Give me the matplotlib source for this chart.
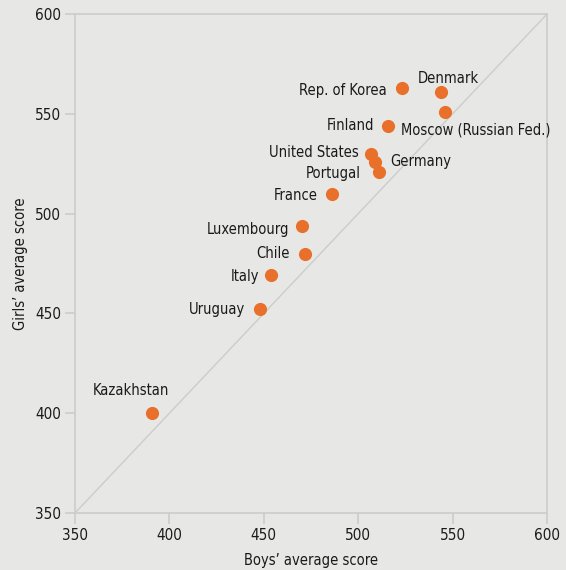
import matplotlib
matplotlib.use("Agg")
import matplotlib.pyplot as plt

# scores
countries = ["Denmark", "Rep. of Korea", "Moscow (Russian Fed.)", "Finland",
             "United States", "Germany", "Portugal", "France", "Luxembourg",
             "Chile", "Italy", "Uruguay", "Kazakhstan"]
boys = [544, 523, 546, 516, 507, 509, 511, 486, 470, 472, 454, 448, 391]
girls = [561, 563, 551, 544, 530, 526, 521, 510, 494, 480, 469, 452, 400]

# label placement (offset in points, horizontal alignment)
label_pos = {
    "Denmark": ((-17, 9.5), "left"),
    "Rep. of Korea": ((-11, -2), "right"),
    "Moscow (Russian Fed.)": ((-32, -13), "left"),
    "Finland": ((-10, 0), "right"),
    "United States": ((-9, 1), "right"),
    "Germany": ((11, 0), "left"),
    "Portugal": ((-13, -1), "right"),
    "France": ((-10, -1), "right"),
    "Luxembourg": ((-9, -3), "right"),
    "Chile": ((-11, 0), "right"),
    "Italy": ((-9, -1), "right"),
    "Uruguay": ((-11, 0), "right"),
    "Kazakhstan": ((-43, 16.5), "left"),
}

bg = "#e7e8e6"
grey = "#cccdcb"
plt.rcParams["font.family"] = ["DejaVu Sans"]
plt.rcParams["font.stretch"] = "condensed"

fig = plt.figure(figsize=(5.66, 5.70), dpi=100, facecolor=bg)
ax = fig.add_axes([0.1325, 0.1, 0.834, 0.8754], facecolor=bg)

ax.plot([350, 600], [350, 600], color=grey, lw=1, zorder=1)
ax.scatter(boys, girls, s=90, color="#e8702a", zorder=3, linewidths=0)

for name, x, y in zip(countries, boys, girls):
    off, ha = label_pos[name]
    ax.annotate(name, (x, y), xytext=off, textcoords="offset points",
                ha=ha, va="center", fontsize=10.5, color="#1a1a1a")

ax.set_xlim(350, 600)
ax.set_ylim(350, 600)
ax.set_xticks(range(350, 601, 50))
ax.set_yticks(range(350, 601, 50))
for s in ax.spines.values():
    s.set_color(grey)
    s.set_linewidth(1.2)
ax.tick_params(axis="both", colors=grey, labelcolor="#1a1a1a", labelsize=11,
               width=1.2)
ax.tick_params(axis="x", length=8, pad=3)
ax.tick_params(axis="y", length=7, pad=3)

ax.set_xlabel("Boys\u2019 average score", fontsize=10.5, color="#1a1a1a", labelpad=7)
ax.set_ylabel("Girls\u2019 average score", fontsize=10.5, color="#1a1a1a", labelpad=5)

fig.savefig("out.png", dpi=100, facecolor=bg)
